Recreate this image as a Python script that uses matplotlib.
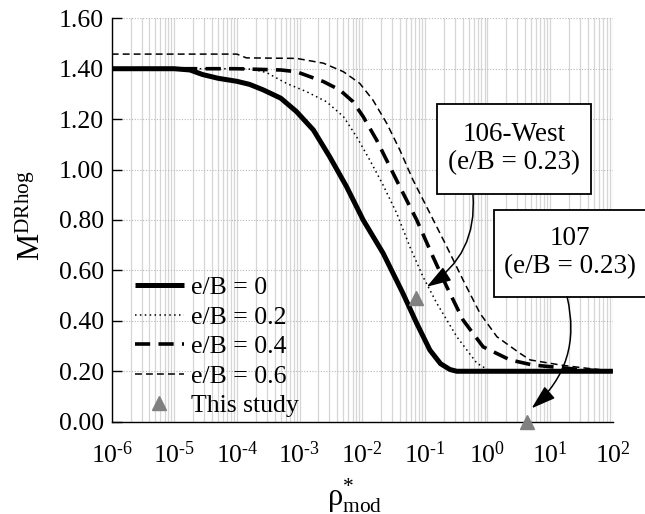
import numpy as np
import matplotlib
matplotlib.use('Agg')
import matplotlib.pyplot as plt
from matplotlib.patches import Rectangle
from matplotlib.ticker import FixedLocator, FixedFormatter, NullFormatter

plt.rcParams['font.family'] = ['Liberation Serif', 'DejaVu Serif']
plt.rcParams['mathtext.fontset'] = 'custom'
plt.rcParams['mathtext.rm'] = 'Liberation Serif'
plt.rcParams['mathtext.it'] = 'Liberation Serif:italic'
plt.rcParams['mathtext.bf'] = 'Liberation Serif:bold'
plt.rcParams['mathtext.default'] = 'regular'

# ---------------- data (log10 of rho*_mod, M^DRhog) ----------------
log_rho_e00 = [-6.0, -5.0, -4.75, -4.55, -4.3, -4.0, -3.8, -3.58, -3.3, -3.05, -2.78,
               -2.52, -2.25, -1.985, -1.666, -1.35, -1.13, -0.92, -0.75, -0.6, -0.49, 2.0]
m_e00 = [1.40, 1.40, 1.395, 1.377, 1.362, 1.35, 1.338, 1.316, 1.283, 1.23, 1.157,
         1.051, 0.932, 0.80, 0.668, 0.509, 0.39, 0.284, 0.23, 0.207, 0.20, 0.20]

log_rho_e02 = [-6.0, -4.0, -3.75, -3.53, -3.21, -2.89, -2.57, -2.30, -2.09, -1.88, -1.67,
               -1.45, -1.24, -1.03, -0.81, -0.49, -0.17, 0.0, 0.15, 2.0]
m_e02 = [1.40, 1.40, 1.398, 1.385, 1.342, 1.309, 1.269, 1.21, 1.13, 1.038, 0.94,
         0.827, 0.694, 0.575, 0.47, 0.337, 0.232, 0.207, 0.20, 0.20]

log_rho_e04 = [-6.0, -4.0, -3.3, -3.05, -2.62, -2.36, -2.15, -1.985, -1.77, -1.56, -1.40,
               -1.13, -0.87, -0.65, -0.39, -0.07, 0.36, 0.72, 1.26, 1.55, 2.0]
m_e04 = [1.40, 1.40, 1.395, 1.388, 1.349, 1.316, 1.27, 1.21, 1.117, 1.012, 0.932,
         0.80, 0.654, 0.535, 0.403, 0.297, 0.245, 0.225, 0.212, 0.205, 0.20]

log_rho_e06 = [-6.0, -4.0, -3.85, -3.05, -2.62, -2.30, -2.04, -1.83, -1.61, -1.40, -1.19,
               -0.92, -0.65, -0.39, -0.12, 0.15, 0.52, 0.68, 1.16, 1.48, 2.0]
m_e06 = [1.458, 1.458, 1.443, 1.441, 1.422, 1.388, 1.342, 1.276, 1.184, 1.078, 0.959,
         0.827, 0.694, 0.562, 0.43, 0.337, 0.271, 0.245, 0.225, 0.215, 0.20]

study_rho = [0.072, 4.3]
study_m = [0.49, 0.0]

series_labels = ['e/B = 0', 'e/B = 0.2', 'e/B = 0.4', 'e/B = 0.6', 'This study']
box_texts = ['106-West\n(e/B = 0.23)', '107\n(e/B = 0.23)']
arrow_tips_rho = [0.107, 5.07]
arrow_tips_m = [0.535, 0.053]

y_ticks = [0.0, 0.2, 0.4, 0.6, 0.8, 1.0, 1.2, 1.4, 1.6]
x_decades = [-6, -5, -4, -3, -2, -1, 0, 1, 2]
x_tick_decades = [-6, -4, -2, 0, 2]


def dec_label(d):
    s = str(d).replace('-', '\u2010')
    return r'$10^{%s}$' % s


# ---------------- figure ----------------
fig = plt.figure(figsize=(6.45, 5.14), dpi=100)
ax = fig.add_axes([0.1732, 0.1796, 0.7768, 0.7848])
ax.set_xscale('log')
ax.set_xlim(10.0 ** x_decades[0], 10.0 ** x_decades[-1])
ax.set_ylim(y_ticks[0], y_ticks[-1])

# grid
for d in x_decades[:-1]:
    for k in range(1, 10):
        ax.axvline(k * 10.0 ** d, color='#d6d6d6', lw=0.9, zorder=0)
ax.axvline(10.0 ** x_decades[-1], color='#d6d6d6', lw=0.9, zorder=0)
for yv in y_ticks[1:]:
    ax.axhline(yv, color='#b8b8b8', lw=0.8, ls=(0, (1, 1.5)), zorder=0)

# curves
ax.plot(10.0 ** np.array(log_rho_e00), m_e00, color='black', lw=3.6,
        solid_capstyle='butt', label=series_labels[0], zorder=3)
ax.plot(10.0 ** np.array(log_rho_e02), m_e02, color='black', lw=1.1,
        dashes=(1.0, 2.2), label=series_labels[1], zorder=3)
ax.plot(10.0 ** np.array(log_rho_e04), m_e04, color='black', lw=2.6,
        dashes=(4.2, 2.3), label=series_labels[2], zorder=3)
ax.plot(10.0 ** np.array(log_rho_e06), m_e06, color='black', lw=1.1,
        dashes=(4.5, 2.7), label=series_labels[3], zorder=3)
ax.plot(study_rho, study_m, ls='none', marker='^', ms=9.5, color='#808080',
        clip_on=False, label=series_labels[4], zorder=6)

# axes styling
for s in ['top', 'right']:
    ax.spines[s].set_visible(False)
for s in ['left', 'bottom']:
    ax.spines[s].set_linewidth(1.0)
    ax.spines[s].set_zorder(4)

ax.yaxis.set_major_locator(FixedLocator(y_ticks))
ax.yaxis.set_major_formatter(FixedFormatter(['%.2f' % v for v in y_ticks]))
ax.tick_params(axis='y', which='major', direction='in', length=7, width=1.0,
               labelsize=18.5, pad=5.5)

ax.xaxis.set_major_locator(FixedLocator([10.0 ** d for d in x_decades]))
ax.xaxis.set_major_formatter(FixedFormatter([dec_label(d) for d in x_decades]))
ax.xaxis.set_minor_locator(FixedLocator([10.0 ** d for d in x_tick_decades]))
ax.xaxis.set_minor_formatter(NullFormatter())
ax.tick_params(axis='x', which='major', length=0, labelsize=18.5, pad=14)
ax.tick_params(axis='x', which='minor', direction='out', length=7.5, width=1.0)

ax.set_xlabel(r'$\mathrm{ρ}^{*}_{\mathrm{mod}}$', fontsize=22)
ax.xaxis.set_label_coords(0.485, -0.135)
ax.set_ylabel(r'$\mathrm{M}^{\mathrm{DRhog}}$', fontsize=22)
ax.yaxis.set_label_coords(-0.13, 0.51)

leg = ax.legend(loc='upper left', bbox_to_anchor=(0.046, 0.36), frameon=False,
                fontsize=18.5, handlelength=1.9, handletextpad=0.3,
                labelspacing=0.25, borderpad=0, borderaxespad=0)

# annotation boxes
boxes = [(0.6487, 0.5645, 0.3074, 0.2231), (0.7631, 0.3099, 0.3034, 0.2149)]
text_pos = [(0.8024, 0.677), (0.9148, 0.4194)]
arrow_start = [(0.721, 0.562), (0.909, 0.309)]
for i in range(2):
    x0, y0, w, h = boxes[i]
    ax.add_patch(Rectangle((x0, y0), w, h, transform=ax.transAxes, fc='white',
                           ec='black', lw=1.3, clip_on=False, zorder=7))
    ax.text(text_pos[i][0], text_pos[i][1], box_texts[i], transform=ax.transAxes,
            ha='center', va='center', fontsize=19.5, linespacing=1.15, zorder=8)
    ax.annotate('', xy=(arrow_tips_rho[i], arrow_tips_m[i]), xycoords='data',
                xytext=arrow_start[i], textcoords='axes fraction',
                arrowprops=dict(arrowstyle='-|>,head_length=1.0,head_width=0.32',
                                mutation_scale=15, connectionstyle='arc3,rad=-0.3',
                                color='black', lw=1.1, shrinkA=0, shrinkB=0),
                annotation_clip=False, zorder=8)

fig.savefig('out.png', dpi=100)
